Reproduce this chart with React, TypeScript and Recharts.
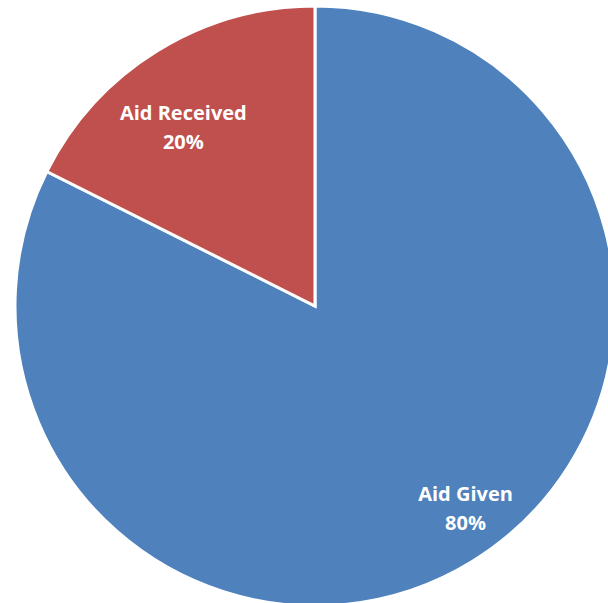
import React from 'react';
import { PieChart, Pie, Cell } from 'recharts';

const categories = ['Aid Given', 'Aid Received'];
const values = [82.4, 17.6];
const percentLabels = ['80%', '20%'];
const COLORS = ['#4F81BD', '#C0504D'];

const data = categories.map((name, i) => ({ name, value: values[i], pct: percentLabels[i] }));

const RADIAN = Math.PI / 180;
// excel puts its labels a little off the mid angle, nudge them to match
const LABEL_NUDGE = [
	{ r: 0.84, da: 5 },
	{ r: 0.74, da: 4.7 },
];

const renderLabel = (props: any) => {
	const { cx, cy, midAngle, outerRadius, index } = props;
	const n = LABEL_NUDGE[index];
	const a = (midAngle + n.da) * RADIAN;
	const x = cx + outerRadius * n.r * Math.cos(a);
	const y = cy - outerRadius * n.r * Math.sin(a);
	return (
		<text
			x={x}
			y={y}
			fill="#ffffff"
			textAnchor="middle"
			fontFamily="'Open Sans', sans-serif"
			fontWeight="bold"
			fontSize={20}
		>
			<tspan x={x} dy={-7}>
				{data[index].name}
			</tspan>
			<tspan x={x} dy={29}>
				{data[index].pct}
			</tspan>
		</text>
	);
};

export default function App() {
	return (
		<div style={{ position: 'absolute', left: 0, top: 0, background: '#fff' }}>
			<PieChart width={608} height={603} margin={{ top: 0, right: 0, bottom: 0, left: 0 }}>
				<Pie
					data={data}
					dataKey="value"
					cx={315}
					cy={306}
					innerRadius={0}
					outerRadius={300}
					startAngle={90}
					endAngle={-270}
					stroke="#ffffff"
					strokeWidth={3}
					label={renderLabel}
					labelLine={false}
					isAnimationActive={false}
				>
					{data.map((_entry, index) => (
						<Cell key={`cell-${index}`} fill={COLORS[index]} />
					))}
				</Pie>
			</PieChart>
		</div>
	);
}
